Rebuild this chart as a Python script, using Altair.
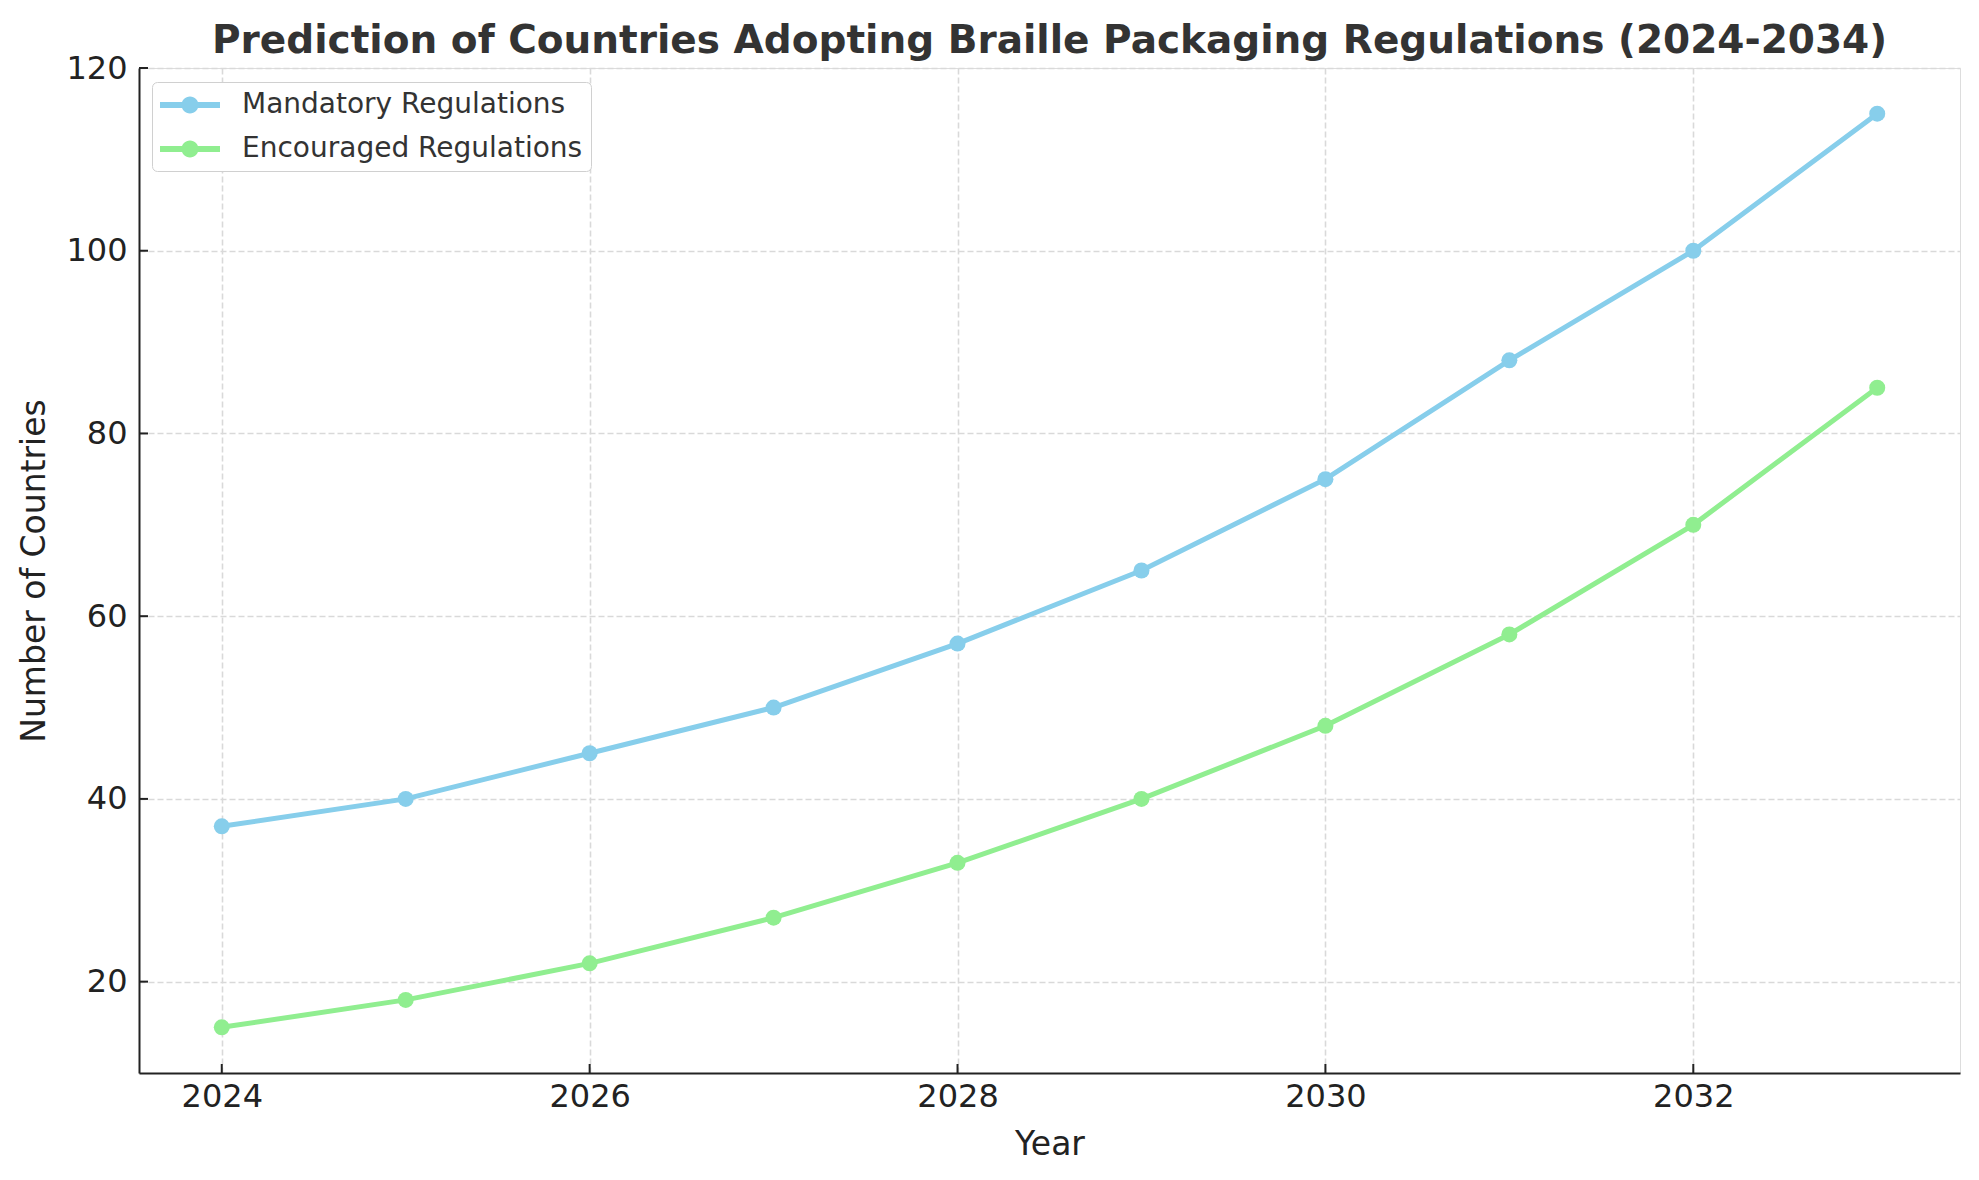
import altair as alt
import pandas as pd

years = [2024, 2025, 2026, 2027, 2028, 2029, 2030, 2031, 2032, 2033]
mandatory = [37, 40, 45, 50, 57, 65, 75, 88, 100, 115]
encouraged = [15, 18, 22, 27, 33, 40, 48, 58, 70, 85]
series_names = ["Mandatory Regulations", "Encouraged Regulations"]
series_colors = ["#87CEEB", "#90EE90"]
x_ticks = [2024, 2026, 2028, 2030, 2032]
y_ticks = [20, 40, 60, 80, 100, 120]

rows = []
for y, m, e in zip(years, mandatory, encouraged):
    rows.append({"Year": y, "Series": series_names[0], "Value": m})
    rows.append({"Year": y, "Series": series_names[1], "Value": e})
df = pd.DataFrame(rows)

W, H = 1821, 1005
FONT = "DejaVu Sans"

xscale = alt.Scale(domain=[2023.55, 2033.45], nice=False, zero=False)
yscale = alt.Scale(domain=[10, 120], nice=False, zero=False)
color = alt.Color(
    "Series:N",
    scale=alt.Scale(domain=series_names, range=series_colors),
    sort=series_names,
    legend=alt.Legend(
        title=None,
        orient="none",
        legendX=13,
        legendY=14,
        symbolType="M -1 -0.2 H 3 V 0.2 H -1 Z M 1.567 0 A 0.567 0.567 0 1 1 0.433 0 A 0.567 0.567 0 1 1 1.567 0 Z",
        symbolSize=900,
        symbolStrokeWidth=0,
        symbolOpacity=1,
        labelFont=FONT,
        labelFontSize=28,
        labelColor="#333333",
        labelOffset=52,
        rowPadding=15,
        padding=8,
        strokeColor="#d0d0d0",
        fillColor="white",
        cornerRadius=5,
        labelLimit=600,
    ),
)

base = alt.Chart(df).encode(
    x=alt.X(
        "Year:Q",
        scale=xscale,
        axis=alt.Axis(
            title="Year",
            values=x_ticks,
            format="d",
            grid=True,
            gridDash=[6, 3],
            gridColor="#d9d9d9",
            gridWidth=1.6,
            ticks=False,
            domainColor="#222222",
            domainWidth=2,
            labelFont=FONT,
            labelFontSize=32,
            labelColor="#222222",
            labelPadding=8,
            titleFont=FONT,
            titleFontSize=33,
            titleFontWeight="normal",
            titleColor="#222222",
            titlePadding=16,
        ),
    ),
    y=alt.Y(
        "Value:Q",
        scale=yscale,
        axis=alt.Axis(
            title="Number of Countries",
            values=y_ticks,
            grid=True,
            gridDash=[6, 3],
            gridColor="#d9d9d9",
            gridWidth=1.6,
            ticks=False,
            domainColor="#222222",
            domainWidth=2,
            labelFont=FONT,
            labelFontSize=32,
            labelColor="#222222",
            labelPadding=12,
            titleFont=FONT,
            titleFontSize=33,
            titleFontWeight="normal",
            titleColor="#222222",
            titlePadding=14,
        ),
    ),
    color=color,
)

lines = base.mark_line(strokeWidth=5)
points = base.mark_circle(size=256, opacity=1)

xt = pd.DataFrame({"t": x_ticks})
yt = pd.DataFrame({"t": y_ticks})
xtick_marks = alt.Chart(xt).mark_rule(color="#222222", strokeWidth=2).encode(
    x=alt.X("t:Q", scale=xscale), y=alt.value(H), y2=alt.value(H - 9)
)
ytick_marks = alt.Chart(yt).mark_rule(color="#222222", strokeWidth=2).encode(
    y=alt.Y("t:Q", scale=yscale), x=alt.value(0), x2=alt.value(9)
)

chart = (
    alt.layer(xtick_marks, ytick_marks, lines, points)
    .properties(
        width=W,
        height=H,
        title=alt.TitleParams(
            "Prediction of Countries Adopting Braille Packaging Regulations (2024-2034)",
            font=FONT,
            fontSize=39,
            fontWeight="bold",
            color="#333333",
            anchor="middle",
            offset=-9,
        ),
        autosize=alt.AutoSizeParams(type="none"),
        padding={"left": 131, "top": 60, "right": 10, "bottom": 95},
    )
    .configure_view(stroke=None)
    .configure(background="white")
)

chart.save("out.html", embed_options={"renderer": "svg", "actions": False})
